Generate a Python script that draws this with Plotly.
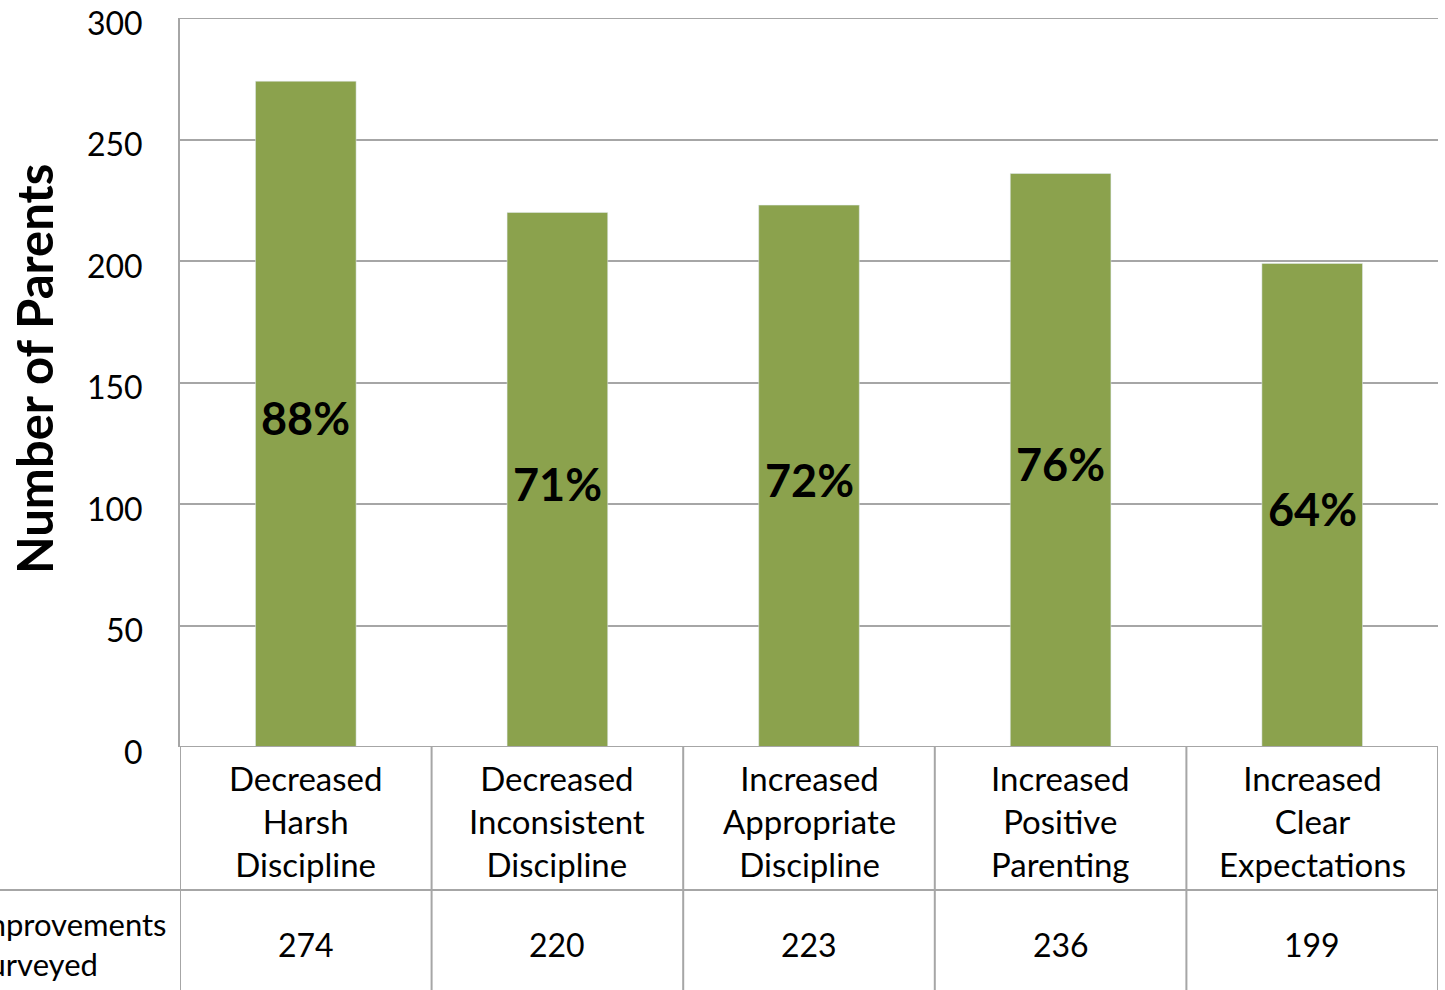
import plotly.graph_objects as go

categories = ["Decreased<br>Harsh<br>Discipline", "Decreased<br>Inconsistent<br>Discipline",
              "Increased<br>Appropriate<br>Discipline", "Increased<br>Positive<br>Parenting",
              "Increased<br>Clear<br>Expectations"]
counts = [274, 220, 223, 236, 199]
percents = ["88%", "71%", "72%", "76%", "64%"]
row_label = "Improvements<br>Surveyed"
y_ticks = [0, 50, 100, 150, 200, 250, 300]

FONT = "Lato"
GRID = "#A6A6A6"
BAR = "#8BA24D"

xs = list(range(len(categories)))

fig = go.Figure()
fig.add_trace(go.Bar(x=xs, y=counts, marker_color=BAR, width=0.4, hoverinfo="skip"))

annotations = []
for i, (c, v, p) in enumerate(zip(categories, counts, percents)):
    annotations.append(dict(x=i, y=v / 2, xref="x", yref="y", text=f"<b>{p}</b>",
                            showarrow=False, font=dict(family=FONT, size=45, color="black"),
                            xanchor="center", yanchor="middle", yshift=-4))
    annotations.append(dict(x=i, y=-0.1015, xref="x", yref="paper", text=c, showarrow=False,
                            font=dict(family=FONT, size=33, color="black"),
                            xanchor="center", yanchor="middle", align="center"))
    annotations.append(dict(x=i, y=-0.271, xref="x", yref="paper", text=str(v), showarrow=False,
                            font=dict(family=FONT, size=32, color="black"),
                            xanchor="center", yanchor="middle"))
for t in y_ticks:
    annotations.append(dict(x=-0.0278, y=t, xref="paper", yref="y", text=str(t), showarrow=False,
                            font=dict(family=FONT, size=32, color="black"),
                            xanchor="right", yanchor="middle", yshift=-4))
annotations.append(dict(x=-0.0087, y=-0.27, xref="paper", yref="paper", text=row_label,
                        showarrow=False, font=dict(family=FONT, size=31, color="black"),
                        xanchor="right", yanchor="middle", align="left"))
annotations.append(dict(x=-0.116, y=0.5185, xref="paper", yref="paper",
                        text="<b>Number of Parents</b>", textangle=-90, showarrow=False,
                        font=dict(family=FONT, size=49, color="black"),
                        xanchor="center", yanchor="middle"))

shapes = []
for k in range(len(categories) + 1):
    shapes.append(dict(type="line", xref="x", yref="paper", x0=k - 0.5, x1=k - 0.5,
                       y0=0, y1=-0.4, line=dict(color=GRID, width=2)))
shapes.append(dict(type="line", xref="paper", yref="paper", x0=-0.2, x1=1,
                   y0=-0.196, y1=-0.196, line=dict(color=GRID, width=2)))
shapes.append(dict(type="line", xref="x", yref="y", x0=-0.5, x1=len(categories) - 0.5,
                   y0=0, y1=0, line=dict(color=GRID, width=2)))
shapes.append(dict(type="line", xref="paper", yref="y", x0=0, x1=1,
                   y0=y_ticks[-1], y1=y_ticks[-1], line=dict(color=GRID, width=2)))

fig.update_layout(
    width=1445, height=990,
    margin=dict(l=180, r=7, t=18, b=243),
    plot_bgcolor="white", paper_bgcolor="white",
    showlegend=False,
    font=dict(family=FONT, color="black"),
    xaxis=dict(range=[-0.5, len(categories) - 0.5], showticklabels=False, showgrid=False,
               zeroline=False, showline=False, fixedrange=True, automargin=False),
    yaxis=dict(range=[0, 300], tickvals=y_ticks, showgrid=True, gridcolor=GRID, gridwidth=2,
               zeroline=False, showline=True, linecolor=GRID, linewidth=2,
               showticklabels=False, automargin=False),
    annotations=annotations,
    shapes=shapes,
)

fig.write_html("out.html")
